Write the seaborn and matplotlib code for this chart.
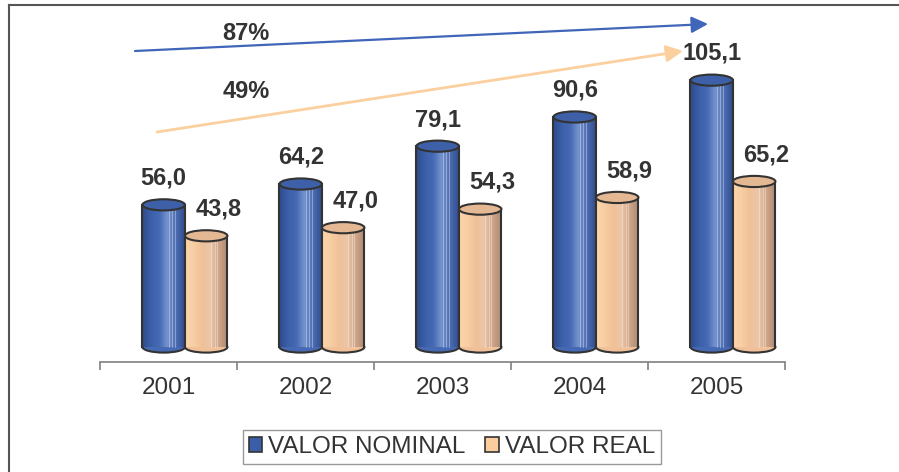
import matplotlib.pyplot as plt
import matplotlib.colors as mcolors
from matplotlib.patches import Ellipse, Patch
from matplotlib.lines import Line2D
import numpy as np
import pandas as pd
import seaborn as sns

# Data
years = ["2001", "2002", "2003", "2004", "2005"]
valor_nominal = [56.0, 64.2, 79.1, 90.6, 105.1]
valor_real = [43.8, 47.0, 54.3, 58.9, 65.2]
series_names = ["VALOR NOMINAL", "VALOR REAL"]
growth_labels = ["87%", "49%"]

df = pd.DataFrame({
    "year": years * 2,
    "value": valor_nominal + valor_real,
    "serie": [series_names[0]] * len(years) + [series_names[1]] * len(years),
})

W, H = 899, 472
fig = plt.figure(figsize=(W / 100, H / 100), dpi=100)
ax = fig.add_axes([100 / W, (H - 362) / H, 685 / W, 357 / H])

sns.barplot(data=df, x="year", y="value", hue="serie", width=0.62,
            palette=["#3A5EA8", "#F3C49A"], legend=False, ax=ax)

# colour ramps across each cylinder (left -> right)
ramps = {
    0: ["#2E4B8A", "#3B5FA9", "#4569B3", "#7693D0", "#4D6DB2", "#314D8E"],
    1: ["#FCD6AC", "#F8CDA2", "#F0C199", "#EBC6A9", "#CDA487", "#AC8972"],
}
tops = {0: "#3D60A8", 1: "#E4B893"}
edge = "#333333"
shift = 0.12
ell_h = 4.4

n = len(years)
for k, p in enumerate(ax.patches[:2 * n]):
    s = k // n
    x0 = p.get_x() + shift
    w = p.get_width()
    h = p.get_height()
    p.set_visible(False)
    z = 2 + s
    cmap = mcolors.LinearSegmentedColormap.from_list("c%d" % s, ramps[s])
    grad = np.linspace(0, 1, 64)[np.newaxis, :]
    # bottom cap
    ax.add_patch(Ellipse((x0 + w / 2, 0), w, ell_h, facecolor=ramps[s][2],
                         edgecolor=edge, lw=1.5, zorder=z))
    # body
    ax.imshow(grad, cmap=cmap, extent=[x0, x0 + w, 0, h], aspect="auto",
              zorder=z + 0.1, interpolation="bilinear")
    # thin highlight stripes
    for f in (0.62, 0.7, 0.76):
        ax.plot([x0 + f * w] * 2, [0, h], color="white", alpha=0.35, lw=0.7,
                zorder=z + 0.15)
    ax.plot([x0, x0], [0, h], color=edge, lw=1.5, zorder=z + 0.2)
    ax.plot([x0 + w, x0 + w], [0, h], color=edge, lw=1.5, zorder=z + 0.2)
    # top cap
    ax.add_patch(Ellipse((x0 + w / 2, h), w, ell_h, facecolor=tops[s],
                         edgecolor=edge, lw=1.5, zorder=z + 0.3))
    # value label
    label = f"{h:.1f}".replace(".", ",")
    dx = 0.0 if s == 0 else 0.09
    ax.text(x0 + w / 2 + dx, h + 10.5, label, ha="center", va="center",
            fontsize=17, fontweight="bold", color="#333333",
            family="Liberation Sans", zorder=6)

ax.set_xlim(-0.5, n - 0.5)
ax.set_ylim(-5.9, 134.7)

# axes styling
for side in ["top", "right", "left"]:
    ax.spines[side].set_visible(False)
ax.spines["bottom"].set_color("#808080")
ax.spines["bottom"].set_linewidth(1.2)
ax.set_yticks([])
ax.set_xticks(np.arange(n))
ax.set_xticklabels(years, fontsize=17.5, color="#333333", family="Liberation Sans")
ax.tick_params(axis="x", which="major", length=0, pad=11)
ax.set_xticks(np.arange(n + 1) - 0.5, minor=True)
ax.tick_params(axis="x", which="minor", length=6, width=1.2, color="#808080")
ax.set_xlabel("")
ax.set_ylabel("")
ax.patch.set_alpha(0)

# growth arrows
def fp(x, y):
    return (x / W, (H - y) / H)

ax.annotate("", xy=fp(708, 24), xytext=fp(135, 51), xycoords="figure fraction",
            textcoords="figure fraction",
            arrowprops=dict(arrowstyle="-|>", color="#3F66B8", lw=1.6,
                            mutation_scale=25, shrinkA=0, shrinkB=0))
ax.annotate("", xy=fp(683, 51), xytext=fp(157, 132), xycoords="figure fraction",
            textcoords="figure fraction",
            arrowprops=dict(arrowstyle="-|>", color="#FCD09E", lw=2.0,
                            mutation_scale=25, shrinkA=0, shrinkB=0))
fig.text(*fp(246, 33), growth_labels[0], ha="center", va="center", fontsize=17,
         fontweight="bold", color="#333333", family="Liberation Sans")
fig.text(*fp(246, 92), growth_labels[1], ha="center", va="center", fontsize=17,
         fontweight="bold", color="#333333", family="Liberation Sans")

# legend
handles = [Patch(facecolor="#3A5EA8", edgecolor=edge, lw=1.2),
           Patch(facecolor="#FACD9F", edgecolor=edge, lw=1.2)]
leg = fig.legend(handles, series_names, loc="center", bbox_to_anchor=fp(452, 447),
                 ncol=2, frameon=True, fancybox=False, edgecolor="#808080",
                 prop={"family": "Liberation Sans", "size": 17.5},
                 handlelength=0.55, handleheight=0.55, handletextpad=0.25,
                 columnspacing=0.8, borderpad=0.25, borderaxespad=0)
leg.get_frame().set_linewidth(1.0)
for t in leg.get_texts():
    t.set_color("#333333")

# outer frame (top and left edges)
fig.add_artist(Line2D([9 / W, 1], [1 - 5 / H] * 2, color="#555555", lw=1.5))
fig.add_artist(Line2D([9 / W] * 2, [0, 1 - 5 / H], color="#555555", lw=1.5))

fig.savefig("out.png", dpi=100)
